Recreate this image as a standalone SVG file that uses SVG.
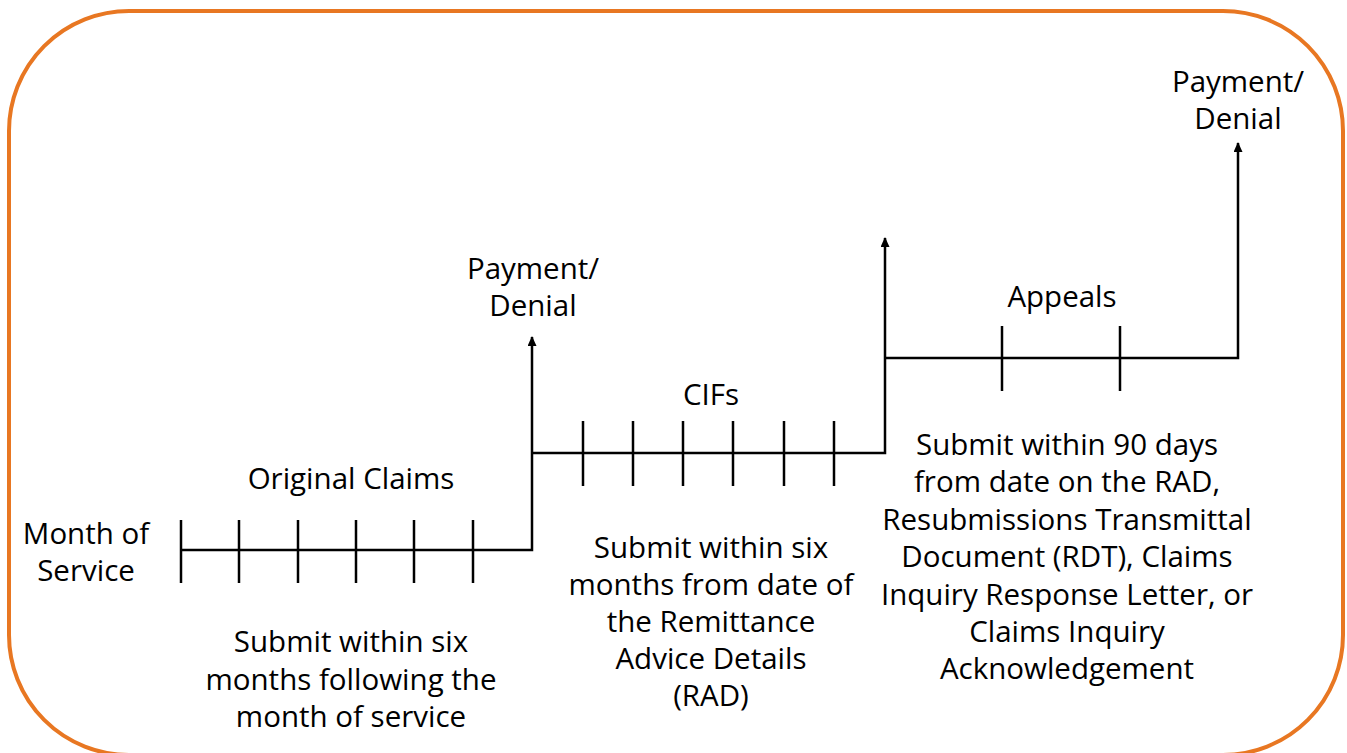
<svg xmlns="http://www.w3.org/2000/svg" width="1347" height="753" viewBox="0 0 1347 753">
  <style>
    .frame { fill: none; stroke: #E87722; stroke-width: 4; }
    .axis { fill: none; stroke: #000; stroke-width: 2.5; }
    .tick { stroke: #000; stroke-width: 2.5; }
    text { font-family: "Open Sans", "Noto Sans", "DejaVu Sans", sans-serif; font-size: 29.5px; fill: #000; text-anchor: middle; }
  </style>
  <defs>
    <marker id="arrowhead" markerWidth="10" markerHeight="9" refX="9" refY="4.5" orient="auto" markerUnits="userSpaceOnUse" viewBox="0 0 10 9">
      <path d="M0,0 L10,4.5 L0,9 Z" fill="#000"/>
    </marker>
  </defs>

  <rect class="frame" x="9" y="11" width="1334" height="744" rx="120" ry="120"/>

  <g id="connectors">
    <!-- Original claims period, then step up to first Payment/Denial -->
    <path class="axis" d="M181,550 H532 V337" marker-end="url(#arrowhead)"/>
    <g class="tick">
      <line x1="181" y1="520" x2="181" y2="583"/>
      <line x1="239" y1="520" x2="239" y2="583"/>
      <line x1="298" y1="520" x2="298" y2="583"/>
      <line x1="356" y1="520" x2="356" y2="583"/>
      <line x1="414" y1="520" x2="414" y2="583"/>
      <line x1="473" y1="520" x2="473" y2="583"/>
    </g>
    <!-- CIFs period -->
    <path class="axis" d="M532,453 H885 V238" marker-end="url(#arrowhead)"/>
    <g class="tick">
      <line x1="583" y1="421" x2="583" y2="486"/>
      <line x1="633" y1="421" x2="633" y2="486"/>
      <line x1="683" y1="421" x2="683" y2="486"/>
      <line x1="733" y1="421" x2="733" y2="486"/>
      <line x1="784" y1="421" x2="784" y2="486"/>
      <line x1="834" y1="421" x2="834" y2="486"/>
    </g>
    <!-- Appeals period, then final Payment/Denial -->
    <path class="axis" d="M885,358 H1238 V143" marker-end="url(#arrowhead)"/>
    <g class="tick">
      <line x1="1002" y1="326" x2="1002" y2="391"/>
      <line x1="1120" y1="326" x2="1120" y2="391"/>
    </g>
  </g>

  <g id="month-of-service">
    <text x="86" y="544">Month of<tspan x="86" dy="37">Service</tspan></text>
  </g>
  <g id="original-claims">
    <text x="351" y="489">Original Claims</text>
  </g>
  <g id="original-claims-note">
    <text x="351" y="652">Submit within six<tspan x="351" dy="38">months following the</tspan><tspan x="351" dy="37">month of service</tspan></text>
  </g>
  <g id="payment-denial-1">
    <text x="533" y="279">Payment/<tspan x="533" dy="37">Denial</tspan></text>
  </g>
  <g id="cifs">
    <text x="711" y="405">CIFs</text>
  </g>
  <g id="cifs-note">
    <text x="711" y="558">Submit within six<tspan x="711" dy="37">months from date of</tspan><tspan x="711" dy="37">the Remittance</tspan><tspan x="711" dy="37">Advice Details</tspan><tspan x="711" dy="37">(RAD)</tspan></text>
  </g>
  <g id="appeals">
    <text x="1062" y="307">Appeals</text>
  </g>
  <g id="appeals-note">
    <text x="1067" y="455">Submit within 90 days<tspan x="1067" dy="37">from date on the RAD,</tspan><tspan x="1067" dy="38">Resubmissions Transmittal</tspan><tspan x="1067" dy="37">Document (RDT), Claims</tspan><tspan x="1067" dy="38">Inquiry Response Letter, or</tspan><tspan x="1067" dy="37">Claims Inquiry</tspan><tspan x="1067" dy="37">Acknowledgement</tspan></text>
  </g>
  <g id="payment-denial-2">
    <text x="1238" y="92">Payment/<tspan x="1238" dy="37">Denial</tspan></text>
  </g>
</svg>
